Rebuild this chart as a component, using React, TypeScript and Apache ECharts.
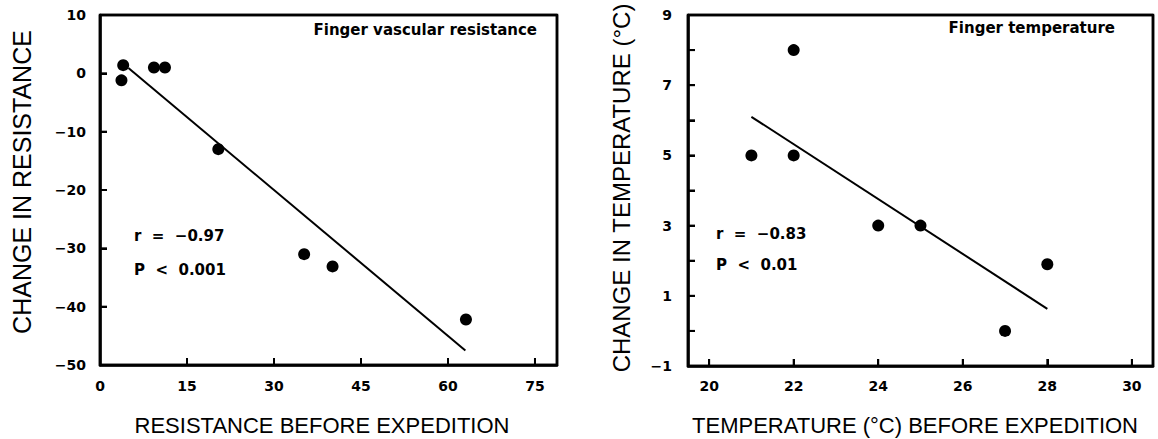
import React, { useEffect, useRef } from "react";
import * as echarts from "echarts";

// ---- Left panel: finger vascular resistance ----
const resBefore = [3.7, 4.0, 9.3, 11.2, 20.4, 35.2, 40.1, 63.1];
const resChange = [-1.2, 1.4, 1.0, 1.0, -13.0, -31.0, -33.1, -42.2];
const resFitX = [4.9, 63.0];
const resFitY = [0.9, -47.5];
const resXTicks = [0, 15, 30, 45, 60, 75];
const resYTicks = [10, 0, -10, -20, -30, -40, -50];

// ---- Right panel: finger temperature ----
const tempBefore = [21, 22, 22, 24, 25, 27, 28];
const tempChange = [5, 8, 5, 3, 3, 0, 1.9];
const tempFitX = [21.0, 28.0];
const tempFitY = [6.1, 0.63];
const tempXTicks = [20, 22, 24, 26, 28, 30];
const tempYLabels = [-1, 1, 3, 5, 7, 9];
const tempYTicks = [-1, 0, 1, 2, 3, 4, 5, 6, 7, 8, 9];

const fmt = (v: number) => (v < 0 ? "\u2212" + Math.abs(v) : String(v));

const labelStyle = (margin: number, vals: number[]) => ({
  color: "#000",
  fontFamily: "DejaVu Sans",
  fontWeight: "bold",
  fontSize: 14,
  margin,
  customValues: vals,
  formatter: fmt,
});
const noteStyle = (text: string, align: string) => ({
  text,
  align,
  verticalAlign: "middle",
  fill: "#000",
  fontFamily: "DejaVu Sans",
  fontWeight: "bold",
  fontSize: 15,
});
const titleStyle = (text: string, size: number) => ({
  text,
  align: "center",
  verticalAlign: "middle",
  fill: "#000",
  fontFamily: "Liberation Sans",
  fontSize: size,
});

function panelOption(p: {
  gridLeft: number;
  gridWidth: number;
  gridHeight: number;
  xMin: number;
  xMax: number;
  yMin: number;
  yMax: number;
  xTicks: number[];
  yTicks: number[];
  yLabels: number[];
  xs: number[];
  ys: number[];
  fitX: number[];
  fitY: number[];
  yLabelMargin: number;
  xLabelMargin: number;
  graphic: any[];
}) {
  const frame = [
    [p.xMin, p.yMin],
    [p.xMax, p.yMin],
    [p.xMax, p.yMax],
    [p.xMin, p.yMax],
    [p.xMin, p.yMin],
  ];
  return {
    animation: false,
    grid: [
      {
        left: p.gridLeft,
        top: 15,
        width: p.gridWidth,
        height: p.gridHeight,
        show: true,
        borderColor: "#000",
        borderWidth: 2.5,
      },
    ],
    xAxis: [
      {
        type: "value",
        min: p.xMin,
        max: p.xMax,
        axisLine: { show: true, onZero: false, lineStyle: { color: "#000", width: 2.5 } },
        axisTick: { show: true, inside: true, length: 7, customValues: p.xTicks, lineStyle: { color: "#000", width: 2 } },
        axisLabel: labelStyle(p.xLabelMargin, p.xTicks),
        splitLine: { show: false },
      },
    ],
    yAxis: [
      {
        type: "value",
        min: p.yMin,
        max: p.yMax,
        axisLine: { show: true, onZero: false, lineStyle: { color: "#000", width: 2.5 } },
        axisTick: { show: true, inside: true, length: 7, customValues: p.yTicks, lineStyle: { color: "#000", width: 2 } },
        axisLabel: labelStyle(p.yLabelMargin, p.yLabels),
        splitLine: { show: false },
      },
    ],
    series: [
      {
        type: "line",
        silent: true,
        clip: false,
        showSymbol: false,
        lineStyle: { color: "#000", width: 2.5 },
        data: frame,
        z: 5,
      },
      {
        type: "scatter",
        silent: true,
        clip: false,
        symbol: "rect",
        symbolSize: [2, 7],
        symbolOffset: [0, -3.5],
        itemStyle: { color: "#000", opacity: 1 },
        data: p.xTicks.map((t) => [t, p.yMin]),
      },
      {
        type: "scatter",
        silent: true,
        clip: false,
        symbol: "rect",
        symbolSize: [7, 2],
        symbolOffset: [3.5, 0],
        itemStyle: { color: "#000", opacity: 1 },
        data: p.yTicks.map((t) => [p.xMin, t]),
      },
      {
        type: "scatter",
        symbol: "circle",
        symbolSize: 12,
        itemStyle: { color: "#000", opacity: 1 },
        data: p.xs.map((x, i) => [x, p.ys[i]]),
      },
      {
        type: "line",
        showSymbol: false,
        lineStyle: { color: "#000", width: 2 },
        data: p.fitX.map((x, i) => [x, p.fitY[i]]),
      },
    ],
    graphic: p.graphic,
  };
}

export default function App() {
  const leftRef = useRef<HTMLDivElement>(null);
  const rightRef = useRef<HTMLDivElement>(null);
  useEffect(() => {
    if (!leftRef.current || !rightRef.current) return;
    const left = echarts.init(leftRef.current, undefined, { renderer: "svg" });
    const right = echarts.init(rightRef.current, undefined, { renderer: "svg" });
    left.setOption(
      panelOption({
        gridLeft: 100,
        gridWidth: 457,
        gridHeight: 350,
        xMin: 0,
        xMax: 78.8,
        yMin: -50,
        yMax: 10,
        xTicks: resXTicks,
        yTicks: resYTicks,
        yLabels: resYTicks,
        xs: resBefore,
        ys: resChange,
        fitX: resFitX,
        fitY: resFitY,
        yLabelMargin: 14,
        xLabelMargin: 14,
        graphic: [
          { type: "text", x: 537, y: 30, style: noteStyle("Finger vascular resistance", "right") },
          { type: "text", x: 134, y: 236, style: noteStyle("r  =  \u22120.97", "left") },
          { type: "text", x: 134, y: 270, style: noteStyle("P  <  0.001", "left") },
          { type: "text", x: 322, y: 425, style: titleStyle("RESISTANCE BEFORE EXPEDITION", 22) },
          { type: "text", x: 22, y: 182, rotation: Math.PI / 2, style: titleStyle("CHANGE IN RESISTANCE", 25) },
        ],
      }) as any
    );
    right.setOption(
      panelOption({
        gridLeft: 108,
        gridWidth: 465,
        gridHeight: 351,
        xMin: 19.5,
        xMax: 30.5,
        yMin: -1,
        yMax: 9,
        xTicks: tempXTicks,
        yTicks: tempYTicks,
        yLabels: tempYLabels,
        xs: tempBefore,
        ys: tempChange,
        fitX: tempFitX,
        fitY: tempFitY,
        yLabelMargin: 16,
        xLabelMargin: 13,
        graphic: [
          { type: "text", x: 535, y: 28, style: noteStyle("Finger temperature", "right") },
          { type: "text", x: 136, y: 234, style: noteStyle("r  =  \u22120.83", "left") },
          { type: "text", x: 136, y: 265, style: noteStyle("P  <  0.01", "left") },
          { type: "text", x: 335, y: 425, style: titleStyle("TEMPERATURE (°C) BEFORE EXPEDITION", 22) },
          { type: "text", x: 41, y: 188, rotation: Math.PI / 2, style: titleStyle("CHANGE IN TEMPERATURE (°C)", 24) },
        ],
      }) as any
    );
    return () => {
      left.dispose();
      right.dispose();
    };
  }, []);
  return (
    <div style={{ position: "absolute", left: 0, top: 0, width: 1158, height: 439, background: "#fff" }}>
      <div ref={leftRef} style={{ position: "absolute", left: 0, top: 0, width: 580, height: 439 }} />
      <div ref={rightRef} style={{ position: "absolute", left: 580, top: 0, width: 578, height: 439 }} />
    </div>
  );
}
